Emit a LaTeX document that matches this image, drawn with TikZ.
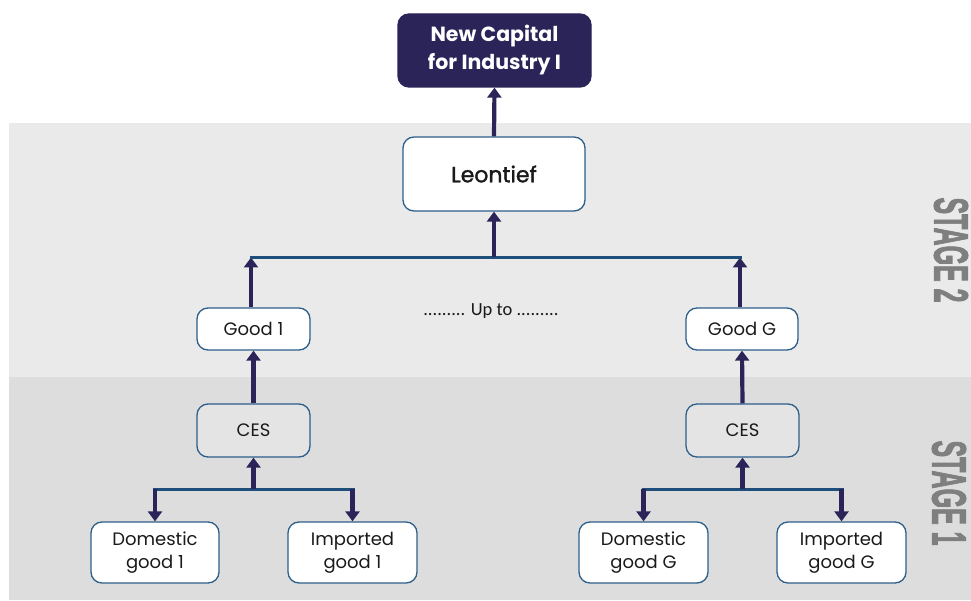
\documentclass[tikz,border=0pt]{standalone}
\usepackage{fontspec}
\setmainfont{Poppins}
\newfontfamily\medfont{Poppins}[FakeBold=1.4]
\newfontfamily\upfont{Carlito}
\newfontfamily\stagefont{Liberation Sans}[FakeBold=2.5]
\usetikzlibrary{arrows.meta}
\definecolor{navy}{HTML}{2A2459}
\definecolor{boxline}{HTML}{2D5F8B}
\definecolor{busc}{HTML}{1E4F7A}
\definecolor{bgtwo}{HTML}{EAEAEA}
\definecolor{bgone}{HTML}{DDDDDD}
\definecolor{cesfill}{HTML}{E4E4E4}
\definecolor{txt}{HTML}{1A1A1A}
\definecolor{stagec}{HTML}{7F7F7F}
\tikzset{
  box/.style={draw=boxline, line width=1.3pt, rounded corners=11pt, fill=white,
    text=txt, align=center, inner sep=0pt, font=\fontsize{18}{23}\selectfont},
  arr/.style={draw=navy, line width=4.2pt, -{Triangle[width=14pt,length=10pt]}},
  bus/.style={draw=busc, line width=3pt},
  stagelab/.style={rotate=-90, text=stagec, inner sep=0pt,
    font=\stagefont\bfseries\fontsize{48}{48}\selectfont}
}
\begin{document}
\begin{tikzpicture}[x=1pt,y=-1pt]
\useasboundingbox (0,0) rectangle (971,601);
\fill[white] (0,0) rectangle (971,601);
\fill[bgtwo] (9,123) rectangle (971,377);
\fill[bgone] (9,377) rectangle (971,600);

\node[stagelab] (s2) at (951,250) {\scalebox{0.52}[1]{STAGE 2}};
\node[stagelab] (s1) at (949,493) {\scalebox{0.52}[1]{STAGE 1}};

\node[box, fill=navy, draw=navy, text=white, minimum width=193pt, minimum height=73pt,
  font=\bfseries\fontsize{20.5}{28}\selectfont] (top) at (494.5,50.5) {New Capital\\for Industry I};
\node[box, minimum width=182pt, minimum height=74pt, font=\medfont\fontsize{22}{24}\selectfont] (leon) at (494,174) {Leontief};

\node[box, minimum width=113pt, minimum height=42pt] (g1) at (253.5,329) {Good 1};
\node[box, minimum width=112pt, minimum height=42pt] (gG) at (742,329) {Good G};
\node[text=txt, font=\upfont\fontsize{18.5}{20}\selectfont, inner sep=0pt] (upto) at (491,311) {......... Up to .........};

\node[box, fill=cesfill, minimum width=113pt, minimum height=53pt] (c1) at (253.5,430.5) {CES};
\node[box, fill=cesfill, minimum width=113pt, minimum height=53pt] (cG) at (742.5,430.5) {CES};

\node[box, minimum width=128pt, minimum height=61pt] (d1) at (155,552.5) {Domestic\\good 1};
\node[box, minimum width=129pt, minimum height=61pt] (i1) at (352.5,552.5) {Imported\\good 1};
\node[box, minimum width=129pt, minimum height=61pt] (dG) at (643.5,552.5) {Domestic\\good G};
\node[box, minimum width=129pt, minimum height=61pt] (iG) at (841.5,552.5) {Imported\\good G};

% stage 2 bus
\coordinate (b2) at (0,257.5);
\coordinate (b2L) at (251,257.5);
\coordinate (b2R) at (740,257.5);
\draw[arr] (g1.north -| b2L) -- (b2L);
\draw[arr] (gG.north -| b2R) -- (b2R);
\draw[bus] ([xshift=-1.5pt]b2L) -- ([xshift=1.5pt]b2R);
\draw[arr] (leon.south |- b2) -- (leon.south);
\draw[arr] (leon.north) -- (top.south);

% CES to goods
\draw[arr] (c1.north) -- (g1.south);
\draw[arr] (cG.north) -- (gG.south);

% stage 1 buses
\coordinate (b1) at (0,489);
\draw[bus] (153,489) -- (355,489);
\draw[bus] (642,489) -- (844,489);
\draw[arr] (c1.south |- b1) -- (c1.south);
\draw[arr] (cG.south |- b1) -- (cG.south);
\draw[arr] (d1.north |- b1) -- (d1.north);
\draw[arr] (i1.north |- b1) -- (i1.north);
\draw[arr] (dG.north |- b1) -- (dG.north);
\draw[arr] (iG.north |- b1) -- (iG.north);
\end{tikzpicture}
\end{document}
